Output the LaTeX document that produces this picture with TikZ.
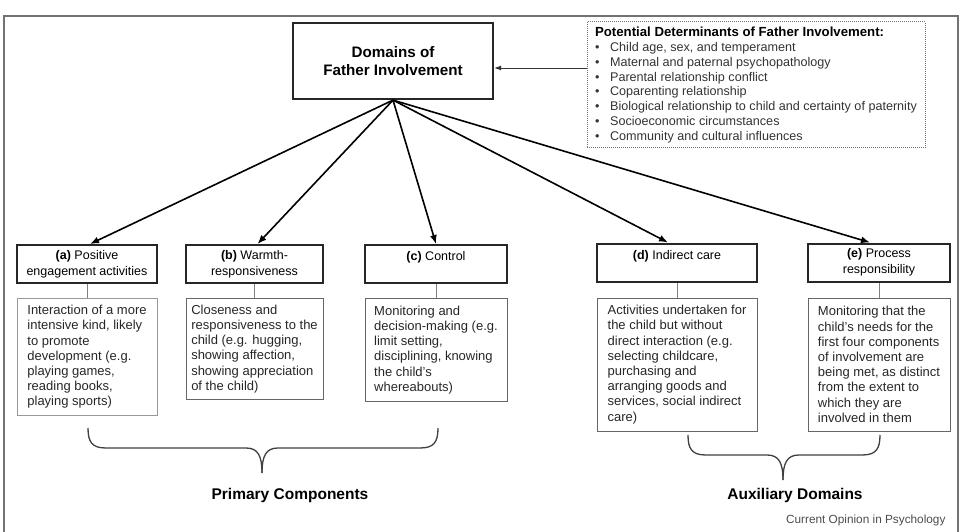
\documentclass[tikz,border=0pt]{standalone}
\usepackage{fontspec}
\setmainfont{Liberation Sans}
\usetikzlibrary{arrows.meta, positioning}
\newcommand{\detitem}{\makebox[15pt][l]{\textbullet}}

\begin{document}
\begin{tikzpicture}[x=1pt, y=-1pt,
    % Styles
    mainbox/.style={rectangle, draw=black!85, line width=2.2pt, minimum width=200pt, minimum height=76pt, align=center, font=\fontsize{15.2}{18}\selectfont\bfseries},
    detbox/.style={rectangle, draw=black!55, densely dotted, line width=1pt, minimum width=338pt, minimum height=126pt, inner sep=0pt, align=left, font=\fontsize{12.6}{14.8}\selectfont, text=black!80},
    headbox/.style={rectangle, draw=black!85, line width=2pt, minimum height=38pt, align=center, inner sep=2pt, font=\fontsize{12.5}{16}\selectfont},
    descbox/.style={rectangle, draw=black!60, line width=0.9pt, align=left, font=\fontsize{13}{15.2}\selectfont, text=black!85},
    arrow/.style={-{Latex[length=9pt,width=7pt]}, line width=1.6pt},
    thinarrow/.style={-{Latex[length=7pt,width=5pt]}, line width=0.9pt, black!80},
    link/.style={draw=black!50, line width=0.8pt},
    brace/.style={draw=black!75, line width=1.3pt},
    group/.style={font=\fontsize{15.5}{18}\selectfont\bfseries},
]
\useasboundingbox (0,0) rectangle (962,532);

% frame
\draw[black!55, line width=1.2pt] (4,532) -- (4,16) -- (958,16) -- (958,532);

% === TOP ===
\node[mainbox] (domains) at (393,61) {Domains of\\Father Involvement};
\node[detbox] (determ) at (756,85) {\textcolor{black}{\fontsize{13.2}{14.8}\selectfont\textbf{Potential Determinants of Father Involvement:}}\\
\detitem Child age, sex, and temperament\\
\detitem Maternal and paternal psychopathology\\
\detitem Parental relationship conflict\\
\detitem Coparenting relationship\\
\detitem Biological relationship to child and certainty of paternity\\
\detitem Socioeconomic circumstances\\
\detitem Community and cultural influences};

\draw[thinarrow] (determ.west |- 0,68) -- (domains.east |- 0,68);

% === COMPONENTS ===
\node[headbox, minimum width=140pt] (engage) at (87,264) {\textbf{(a)} Positive\\engagement activities};
\node[headbox, minimum width=137pt] (warmth) at (254.5,264) {\textbf{(b)} Warmth-\\responsiveness};
\node[headbox, minimum width=142pt] (control) at (436,264) {\textbf{(c)} Control\\\mbox{}};
\node[headbox, minimum width=160pt] (indirect) at (677,262.5) {\textbf{(d)} Indirect care\\\mbox{}};
\node[headbox, minimum width=142pt] (process) at (879,262.5) {\textbf{(e)} Process\\responsibility};

% descriptions
\node[descbox, draw=black!40, minimum width=140pt, minimum height=117pt, below=14pt of engage] (engagedesc) {Interaction of a more\\intensive kind, likely\\to promote\\development (e.g.\\playing games,\\reading books,\\playing sports)};
\node[descbox, minimum width=137pt, minimum height=101pt, below=14pt of warmth] (warmthdesc) {Closeness and\\responsiveness to the\\child (e.g. hugging,\\showing affection,\\showing appreciation\\of the child)};
\node[descbox, minimum width=142pt, minimum height=103pt, below=14pt of control] (controldesc) {Monitoring and\\decision-making (e.g.\\limit setting,\\disciplining, knowing\\the child's\\whereabouts)};
\node[descbox, minimum width=160pt, minimum height=133pt, below=15pt of indirect] (indirectdesc) {Activities undertaken for\\the child but without\\direct interaction (e.g.\\selecting childcare,\\purchasing and\\arranging goods and\\services, social indirect\\care)};
\node[descbox, minimum width=142pt, minimum height=133pt, below=15pt of process] (processdesc) {Monitoring that the\\child's needs for the\\first four components\\of involvement are\\being met, as distinct\\from the extent to\\which they are\\involved in them};

% arrows
\draw[arrow] (domains.south) -- ([xshift=3pt]engage.north);
\draw[arrow] (domains.south) -- ([xshift=3pt]warmth.north);
\draw[arrow] (domains.south) -- (control.north);
\draw[arrow] (domains.south) -- ([xshift=-9pt]indirect.north);
\draw[arrow] (domains.south) -- ([xshift=-9pt]process.north);

% links
\draw[link] (engage) -- (engagedesc);
\draw[link] (warmth) -- (warmthdesc);
\draw[link] (control) -- (controldesc);
\draw[link] (indirect) -- (indirectdesc);
\draw[link] (process) -- (processdesc);

% === BRACES ===
\draw[brace] (88,428) .. controls (88,442) and (92,448) .. (106,448) -- (246,448) .. controls (258,448) and (262,456) .. (262,473);
\draw[brace] (262,473) .. controls (262,456) and (266,448) .. (278,448) -- (420,448) .. controls (434,448) and (438,442) .. (438,428);
\draw[brace] (688,435) .. controls (688,449) and (692,455) .. (706,455) -- (767,455) .. controls (779,455) and (783,463) .. (783,480);
\draw[brace] (783,480) .. controls (783,463) and (787,455) .. (799,455) -- (862,455) .. controls (876,455) and (880,449) .. (880,435);

\node[group] (primary) at (290,495) {Primary Components};
\node[group] (auxiliary) at (795,495) {Auxiliary Domains};
\node[font=\fontsize{11.8}{14}\selectfont, text=black!70, anchor=east] (source) at (949,520) {Current Opinion in Psychology};

\end{tikzpicture}
\end{document}
